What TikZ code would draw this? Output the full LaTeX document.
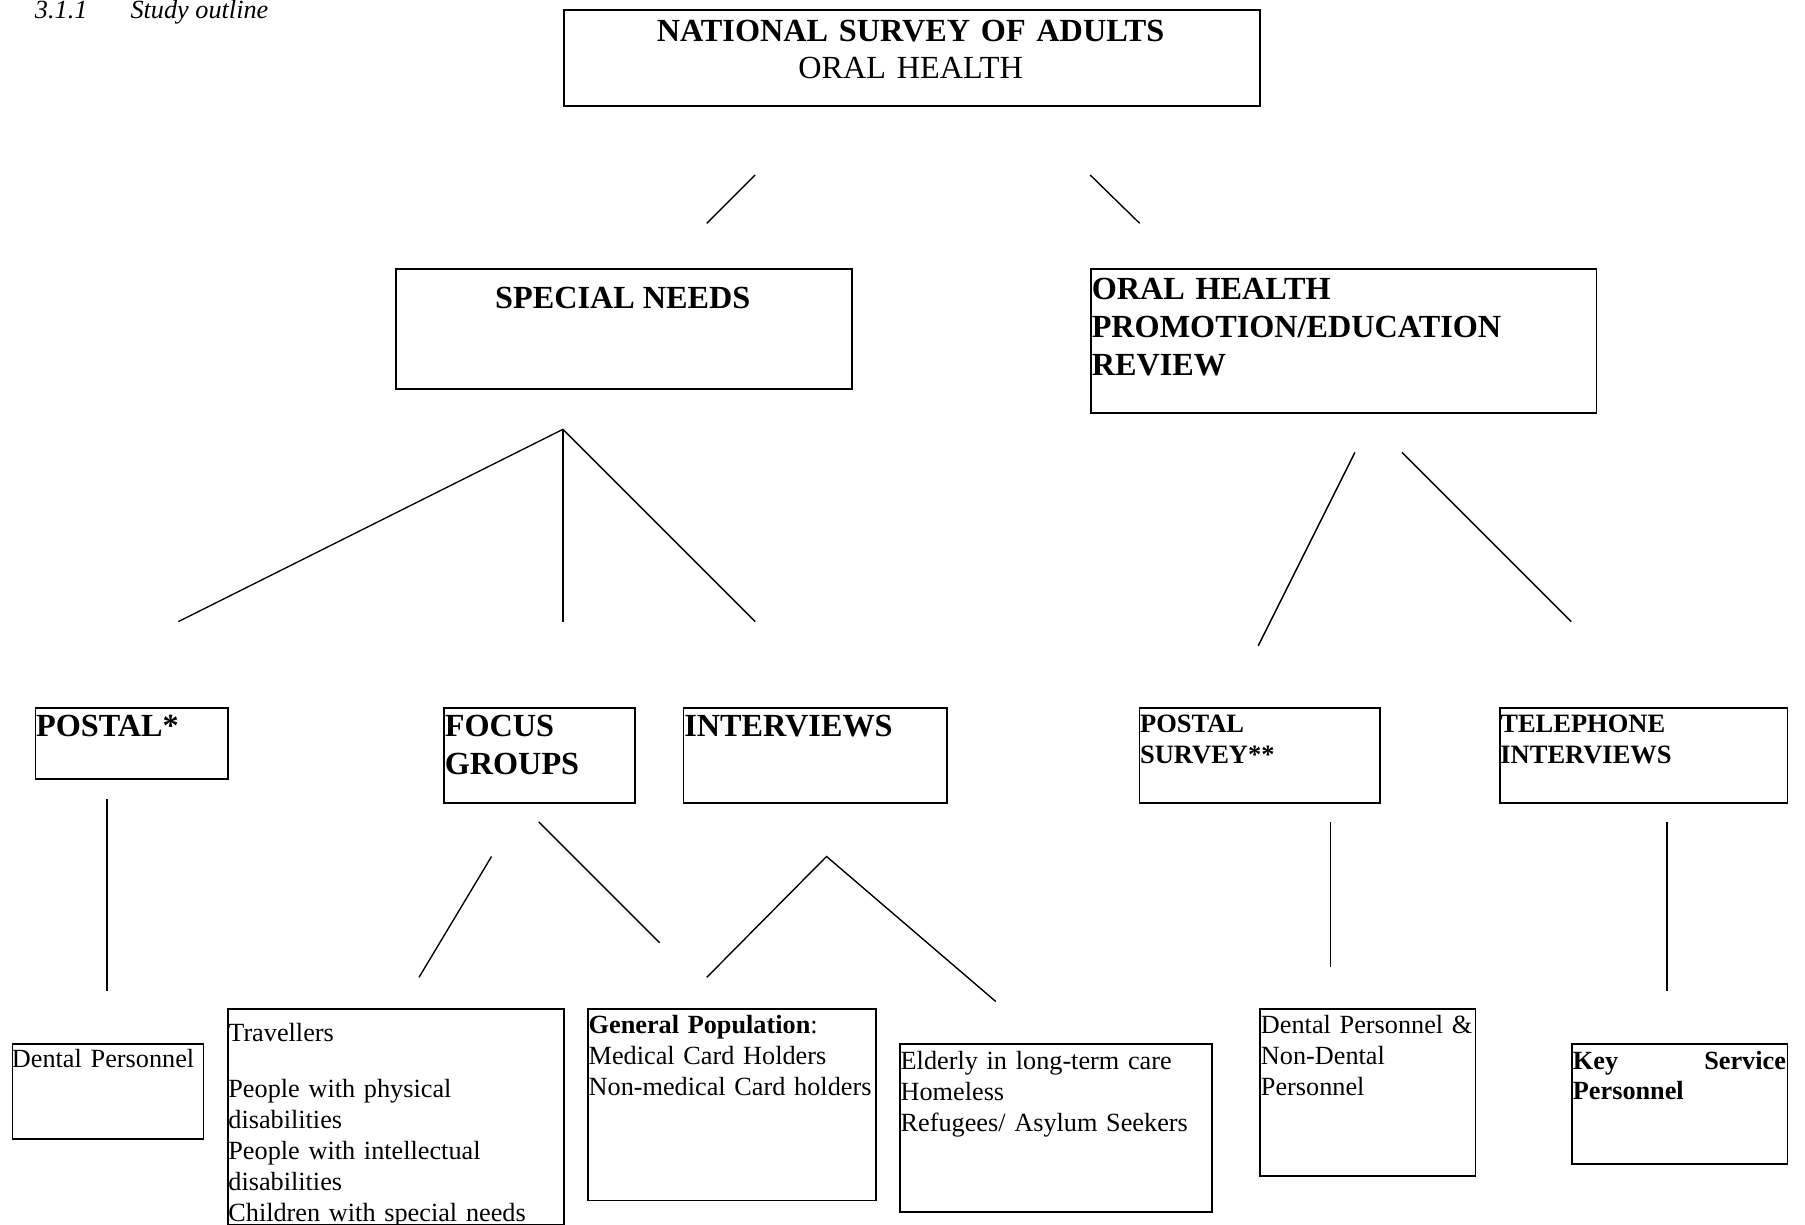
\documentclass[tikz,border=0pt]{standalone}
\usepackage{fontspec}
\setmainfont{Liberation Serif}
\begin{document}
\begin{tikzpicture}[x=0.5pt,y=-0.5pt,
  box/.style={draw, line width=0.8pt, inner sep=0pt, anchor=north west},
  link/.style={line width=0.6pt},
  hd/.style={font=\fontsize{14}{16.5}\selectfont\bfseries, inner sep=0pt, anchor=base west, align=left, text width=#1},
  hd/.default=220pt,
  sm/.style={font=\fontsize{11.5}{13.5}\selectfont\bfseries, inner sep=0pt, anchor=base west, align=left, text width=120pt},
  tx/.style={font=\fontsize{11.4}{13.5}\selectfont, inner sep=0pt, anchor=base west, align=left, text width=#1},
  tx/.default=200pt
]
\useasboundingbox (0,0) rectangle (1568,1064);

% title
\node[font=\fontsize{11.4}{14}\selectfont\itshape, inner sep=0pt, anchor=base west] (t1) at (30,16) {3.1.1};
\node[font=\fontsize{11.4}{14}\selectfont\itshape, inner sep=0pt, anchor=base west] (t2) at (113,16) {Study outline};

% boxes
\node[box, minimum width=302.5pt, minimum height=41.5pt] (nat) at (489,8) {};
\node[box, minimum width=198pt, minimum height=52pt] (sn) at (343,233) {};
\node[box, minimum width=219.5pt, minimum height=62.5pt] (oh) at (947,233) {};
\node[box, minimum width=83.5pt, minimum height=31pt] (p1) at (30,614) {};
\node[box, minimum width=83pt, minimum height=41.5pt] (fg) at (385,614) {};
\node[box, minimum width=114.5pt, minimum height=41.5pt] (iv) at (593,614) {};
\node[box, minimum width=104.5pt, minimum height=41.5pt] (ps) at (989,614) {};
\node[box, minimum width=125pt, minimum height=41.5pt] (tel) at (1302,614) {};
\node[box, minimum width=83pt, minimum height=41.5pt] (dp) at (10,906) {};
\node[box, minimum width=146pt, minimum height=93.5pt] (tr) at (197,876) {};
\node[box, minimum width=125pt, minimum height=83pt] (gp) at (510,876) {};
\node[box, minimum width=135.5pt, minimum height=73pt] (el) at (781,906) {};
\node[box, minimum width=93.5pt, minimum height=72.5pt] (dn) at (1094,876) {};
\node[box, minimum width=93.5pt, minimum height=52pt] (ks) at (1365,906) {};

% texts
\node[font=\fontsize{14}{16}\selectfont, inner sep=0pt, anchor=base, align=center, text width=300pt] (natt) at (791,36) {{\bfseries NATIONAL SURVEY OF ADULTS}\\ORAL HEALTH};
\node[font=\fontsize{14}{16.5}\selectfont\bfseries, inner sep=0pt, anchor=base] (snt) at (541,268) {SPECIAL NEEDS};
\node[hd] (oht) at (948,260) {ORAL HEALTH\\PROMOTION/EDUCATION\\REVIEW};
\node[hd=80pt] (p1t) at (31,640) {POSTAL*};
\node[hd=80pt] (fgt) at (386,640) {FOCUS\\GROUPS};
\node[hd=110pt] (ivt) at (594,640) {INTERVIEWS};
\node[sm] (pst) at (990,636) {POSTAL\\SURVEY**};
\node[sm] (telt) at (1303,636) {TELEPHONE\\INTERVIEWS};

\node[tx] (dpt) at (10,927) {Dental Personnel};
\node[tx] (trt) at (198,905) {Travellers\\[10.5pt]People with physical\\disabilities\\People with intellectual\\disabilities\\Children with special needs};
\node[tx] (gpt) at (511,898) {{\bfseries General Population}:\\Medical Card Holders\\Non-medical Card holders};
\node[tx] (elt) at (782,929) {Elderly in long-term care\\Homeless\\Refugees/ Asylum Seekers};
\node[tx] (dnt) at (1095,898) {Dental Personnel \&\\Non-Dental\\Personnel};
\node[tx=92.5pt, font=\fontsize{11.4}{13}\selectfont\bfseries] (kst) at (1366,929) {Key\hfill Service\\Personnel};

% connector end points
\coordinate (a1) at (656,152); \coordinate (a2) at (614,194);
\coordinate (b1) at (947,152); \coordinate (b2) at (990,194);
\coordinate (c0) at (489,373);
\coordinate (c1) at (155,540); \coordinate (c2) at (489,540); \coordinate (c3) at (656,540);
\coordinate (d1) at (1177,393); \coordinate (d2) at (1093,561);
\coordinate (e1) at (1218,393); \coordinate (e2) at (1365,540);
\coordinate (f1) at (93,694); \coordinate (f2) at (93,861);
\coordinate (g1) at (427,744); \coordinate (g2) at (364,849);
\coordinate (h1) at (468,714); \coordinate (h2) at (573,819);
\coordinate (i0) at (718,744); \coordinate (i1) at (614,849); \coordinate (i2) at (865,870);
\coordinate (j1) at (1156,714); \coordinate (j2) at (1156,840);
\coordinate (k1) at (1448,714); \coordinate (k2) at (1448,861);

\draw[link] (a1) -- (a2);
\draw[link] (b1) -- (b2);
\draw[link] (c1) -- (c0) -- (c3);
\draw[link] (c0) -- (c2);
\draw[link] (d1) -- (d2);
\draw[link] (e1) -- (e2);
\draw[link] (f1) -- (f2);
\draw[link] (g1) -- (g2);
\draw[link] (h1) -- (h2);
\draw[link] (i1) -- (i0) -- (i2);
\draw[link] (j1) -- (j2);
\draw[link] (k1) -- (k2);
\end{tikzpicture}
\end{document}
